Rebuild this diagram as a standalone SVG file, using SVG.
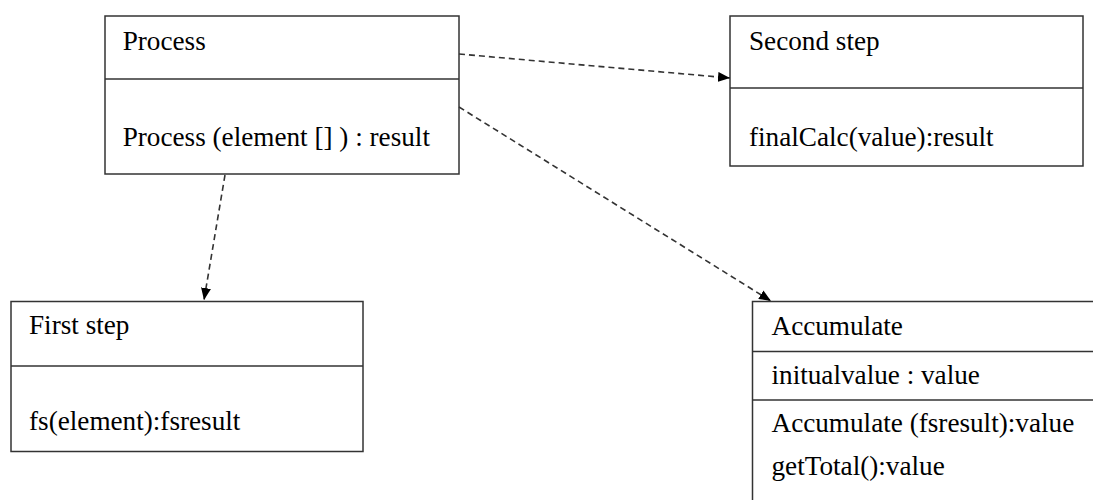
<svg xmlns="http://www.w3.org/2000/svg" width="1093" height="500" viewBox="0 0 1093 500">
<style>
  .box { fill: #ffffff; stroke: #333333; stroke-width: 1.5; }
  .div { stroke: #333333; stroke-width: 1.5; fill: none; }
  .t { font-family: "Liberation Serif", "Times New Roman", serif; font-size: 27.2px; fill: #000000; }
  .conn { stroke: #333333; stroke-width: 1.6; fill: none; stroke-dasharray: 6 4; }
</style>
<defs>
  <marker id="arrow" viewBox="0 0 12 10" refX="12" refY="5" markerWidth="12" markerHeight="10" markerUnits="userSpaceOnUse" orient="auto">
    <path d="M0,0 L12,5 L0,10 Z" fill="#000000"/>
  </marker>
</defs>
<rect x="0" y="0" width="1093" height="500" fill="#ffffff"/>

<g id="process">
  <rect class="box" x="105" y="16" width="354" height="158"/>
  <line class="div" x1="105" y1="79" x2="459" y2="79"/>
  <text class="t" x="122.7" y="50">Process</text>
  <text class="t" x="122.7" y="146">Process (element [] ) : result</text>
</g>

<g id="second-step">
  <rect class="box" x="730" y="16" width="353" height="150"/>
  <line class="div" x1="730" y1="88" x2="1083" y2="88"/>
  <text class="t" x="749" y="50">Second step</text>
  <text class="t" x="749" y="146">finalCalc(value):result</text>
</g>

<g id="first-step">
  <rect class="box" x="11" y="301.5" width="352" height="150"/>
  <line class="div" x1="11" y1="366" x2="363" y2="366"/>
  <text class="t" x="29" y="334">First step</text>
  <text class="t" x="29" y="430">fs(element):fsresult</text>
</g>

<g id="accumulate">
  <rect class="box" x="752.5" y="301.5" width="360" height="220"/>
  <line class="div" x1="752.5" y1="351.5" x2="1100" y2="351.5"/>
  <line class="div" x1="752.5" y1="400" x2="1100" y2="400"/>
  <text class="t" x="771.5" y="335">Accumulate</text>
  <text class="t" x="771.5" y="384">initualvalue : value</text>
  <text class="t" x="771.5" y="431.5">Accumulate (fsresult):value</text>
  <text class="t" x="771.5" y="475">getTotal():value</text>
</g>

<g id="connectors">
  <line class="conn" x1="225" y1="175" x2="204" y2="300" marker-end="url(#arrow)"/>
  <line class="conn" x1="459" y1="54" x2="730" y2="78" marker-end="url(#arrow)"/>
  <line class="conn" x1="459" y1="107" x2="771" y2="301" marker-end="url(#arrow)"/>
</g>
</svg>
